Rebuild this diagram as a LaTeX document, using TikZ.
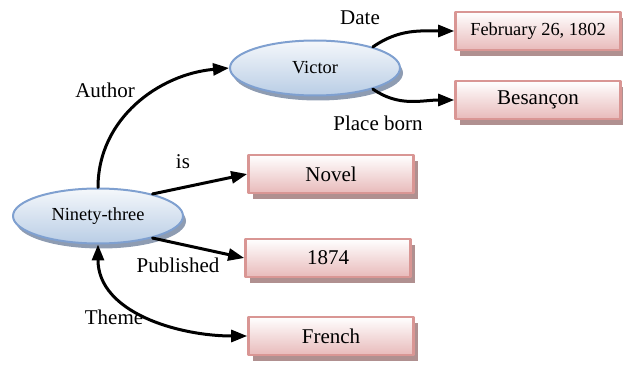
\documentclass[tikz,border=0pt]{standalone}
\usepackage{fontspec}
\setmainfont{Liberation Serif}
\usetikzlibrary{shapes.geometric,shadows,arrows.meta}
\definecolor{boxline}{RGB}{217,150,148}
\definecolor{boxfill}{RGB}{232,186,186}
\definecolor{boxshadow}{RGB}{176,144,144}
\definecolor{ellline}{RGB}{127,160,208}
\definecolor{ellfill}{RGB}{185,205,229}
\definecolor{ellshadow}{RGB}{142,156,178}
\begin{document}
\begin{tikzpicture}[x=0.5pt, y=0.5pt, font=\fontsize{10.5}{12}\selectfont, line join=round, line cap=round,
		>={Triangle[length=8pt,width=6pt]},
		thing/.style={ellipse, draw=ellline, line width=1pt, top color=ellfill!15, bottom color=ellfill,
			minimum width=85pt, minimum height=27.5pt, inner sep=0pt, font=\fontsize{9.2}{10}\selectfont,
			drop shadow={shadow xshift=1.5pt, shadow yshift=-2.5pt, fill=ellshadow, opacity=1}},
		value/.style={rectangle, draw=boxline, line width=1.3pt, top color=white, bottom color=boxfill,
			minimum width=82.5pt, minimum height=19pt, inner sep=0pt,
			drop shadow={shadow xshift=2pt, shadow yshift=-3pt, fill=boxshadow, opacity=1}},
		rel/.style={line width=1.5pt, ->}]
		\useasboundingbox (0,0) rectangle (623,365);
		% resources
		\node[thing] (V) at (315,297) {Victor};
		\node[thing] (N) at (98,149) {Ninety-three};
		% values
		\node[value, font=\fontsize{9.2}{10}\selectfont] (D) at (538,334) {February 26, 1802};
		\node[value] (B) at (538,265) {Besançon};
		\node[value] (Nv) at (331,191) {Novel};
		\node[value] (Y) at (328,107) {1874};
		\node[value] (F) at (331,29) {French};
		% properties
		\draw[rel] (N.north) to[out=90,in=185] (V.west);
		\draw[rel] (V.20) to[out=35,in=180] (D.west);
		\draw[rel] (V.-20) to[out=-35,in=180] (B.west);
		\draw[rel] (N.22) -- (Nv.west);
		\draw[rel] (N.-22) -- (Y.west);
		\draw[rel,<->] (N.south) to[out=-90,in=180] (F.west);
		\node (lA) at (105,275) {Author};
		\node (lD) at (360,347) {Date};
		\node (lP) at (378,242) {Place born};
		\node (lI) at (183,203) {is};
		\node (lY) at (178,100) {Published};
		\node (lT) at (114,48) {Theme};
	\end{tikzpicture}
\end{document}
